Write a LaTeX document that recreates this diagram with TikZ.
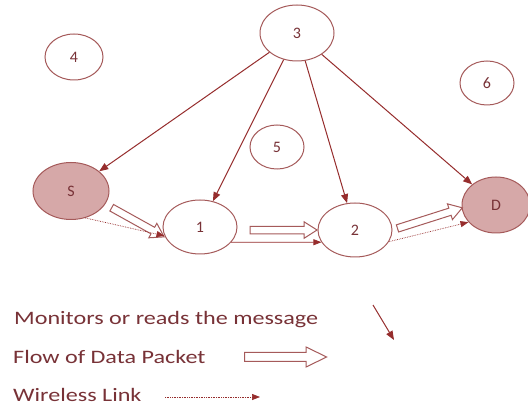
\documentclass[tikz,border=0pt]{standalone}
\usepackage{fontspec}
\setmainfont{Carlito}
\usetikzlibrary{shapes.geometric,shapes.arrows,arrows.meta}
\definecolor{edgecol}{RGB}{165,90,90}
\definecolor{arrcol}{RGB}{150,45,45}
\definecolor{fillcol}{RGB}{214,168,168}
\definecolor{txtcol}{RGB}{120,50,55}
\begin{document}
\begin{tikzpicture}[x=1pt,y=-1pt,
  nd/.style={ellipse, draw=edgecol, line width=1pt, inner sep=0pt, text=txtcol, font=\fontsize{16}{18}\selectfont},
  src/.style={nd, fill=fillcol},
  mon/.style={draw=arrcol, line width=1pt, -{Triangle[length=9pt,width=7pt]}},
  wl/.style={draw=arrcol, line width=0.7pt, densely dotted, -{Triangle[length=8pt,width=6pt]}},
  fat/.style={single arrow, draw=edgecol, line width=1pt, fill=white, inner sep=0pt, text height=6.5pt, text depth=0pt, single arrow head extend=4.5pt, single arrow tip angle=65, anchor=center, sloped},
  lbl/.style={text=txtcol, font=\fontsize{19}{21}\selectfont, anchor=base west, inner sep=0pt}]
\fill[white] (0,0) rectangle (528,406);
\useasboundingbox (0,0) rectangle (528,406);
% nodes
\node[nd, minimum width=74pt, minimum height=56pt] (n3) at (297,33) {3};
\node[nd, minimum width=58pt, minimum height=46pt] (n4) at (74,57) {4};
\node[nd, minimum width=54pt, minimum height=44pt] (n6) at (487,83) {6};
\node[nd, minimum width=54pt, minimum height=44pt] (n5) at (277,147) {5};
\node[src, minimum width=76pt, minimum height=57pt] (S) at (71,191) {S};
\node[nd, minimum width=74pt, minimum height=54pt] (n1) at (200,227) {1};
\node[nd, minimum width=74pt, minimum height=54pt] (n2) at (355,230) {2};
\node[src, minimum width=68pt, minimum height=56pt] (D) at (496,205) {D};
% monitoring arrows
\draw[mon] (n3) -- (S);
\draw[mon] (n3) -- (n1);
\draw[mon] (n3) -- (n2);
\draw[mon] (n3) -- (D);
% data flow
\path (S.-21) -- node[fat, minimum height=60pt] {} (n1.-163);
\path (n1.-5) -- node[fat, pos=0.54, minimum height=67pt] {} (n2.180);
\path (n2.0) -- node[fat, minimum height=68pt] {} (D.185);
% wireless links
\draw[wl] (S.-62) -- (n1.-166);
\draw[wl, solid] (n1.-26) -- (n2.-160);
\draw[wl] (n2.-19) -- (D.-148);
% legend
\node[lbl] (t1) at (14,325) {\scalebox{1.27}[1]{Monitors or reads the message}};
\node[lbl] (t2) at (13,363) {\scalebox{1.27}[1]{Flow of Data Packet}};
\node[lbl] (t3) at (13,402) {\scalebox{1.27}[1]{Wireless Link}};
\coordinate (m1) at (373,305);
\coordinate (m2) at (394,340);
\draw[mon] (m1) -- (m2);
\coordinate (f1) at (240,357);
\coordinate (f2) at (322,357);
\path (f1) -- node[fat, minimum height=82pt, text height=8pt, single arrow head extend=5.5pt, single arrow tip angle=52] {} (f2);
\coordinate (w1) at (165,397);
\coordinate (w2) at (260,397);
\draw[wl] (w1) -- (w2);
\end{tikzpicture}
\end{document}
